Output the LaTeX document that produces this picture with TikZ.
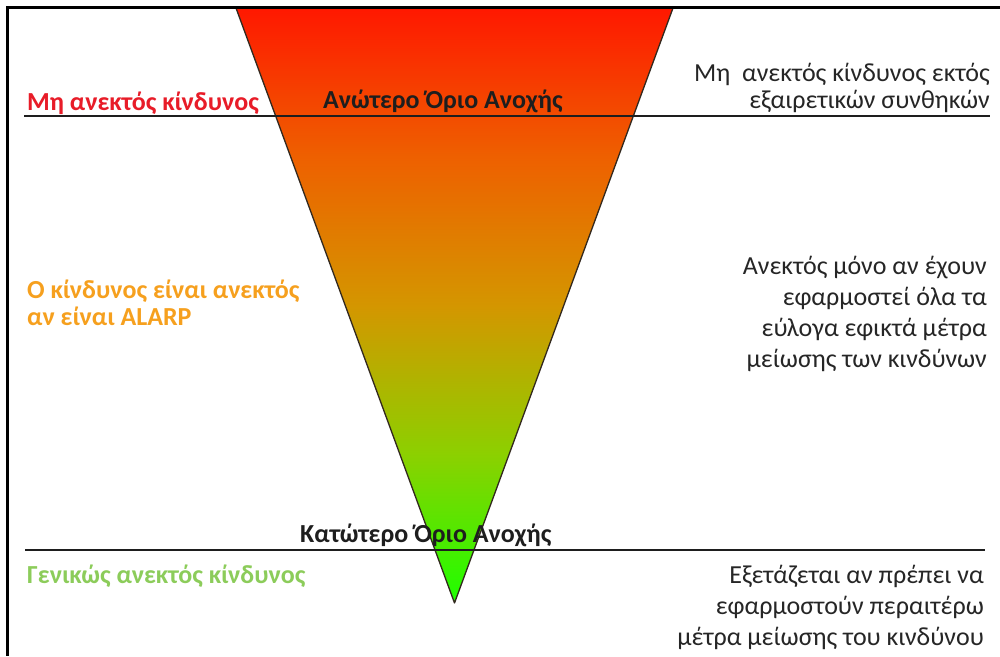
\documentclass[tikz,border=0pt]{standalone}
\usepackage{fontspec}
\setmainfont{Carlito}
\definecolor{gtop}{RGB}{255,24,0}
\definecolor{gq1}{RGB}{238,96,0}
\definecolor{gmid}{RGB}{212,150,0}
\definecolor{gq3}{RGB}{140,208,0}
\definecolor{gbot}{RGB}{30,255,0}
\definecolor{riskred}{RGB}{232,28,40}
\definecolor{riskorange}{RGB}{246,160,30}
\definecolor{riskgreen}{RGB}{140,204,90}
\definecolor{notegray}{RGB}{38,38,38}
\definecolor{rulegray}{RGB}{30,30,30}
\definecolor{edgegray}{RGB}{50,40,30}
% red at the top, green at the bottom (stops 25bp..75bp span the path)
\pgfdeclareverticalshading{riskgrad}{100bp}{%
  color(0bp)=(gbot); color(25bp)=(gbot); color(37.5bp)=(gq3);
  color(50bp)=(gmid); color(62.5bp)=(gq1); color(75bp)=(gtop); color(100bp)=(gtop)}
\begin{document}
\begin{tikzpicture}[x=1pt,y=-1pt,
  lbl/.style={inner sep=0pt, font=\bfseries\fontsize{26}{27}\selectfont},
  note/.style={inner sep=0pt, align=right, text=notegray, font=\fontsize{26}{31}\selectfont},
  rule/.style={line width=2pt, draw=rulegray}]
\useasboundingbox (0,0) rectangle (1000,656);
\fill[white] (0,0) rectangle (1000,656);
% the inverted triangle
\coordinate (tl) at (236,8);
\coordinate (tr) at (673,8);
\coordinate (bt) at (454.5,603);
\shade[shading=riskgrad] (tl) -- (tr) -- (bt) -- cycle;
\draw[line width=1.3pt, draw=edgegray, line join=round] (tl) -- (bt) -- (tr);
% frame
\coordinate (fr) at (1000,7);
\coordinate (fc) at (7,7);
\coordinate (fb) at (7,656);
\draw[line width=3pt] (fr) -- (fc) -- (fb);
% tolerance limits
\coordinate (u1) at (24,116);
\coordinate (u2) at (990,116);
\coordinate (l1) at (25,550);
\coordinate (l2) at (985,550);
\draw[rule] (u1) -- (u2);
\draw[rule] (l1) -- (l2);
% labels (base anchor of a multi-line node sits on its last line)
\node[lbl, text=riskred, anchor=base west] (red) at (27,110) {Μη ανεκτός κίνδυνος};
\node[lbl, text=rulegray, anchor=base west] (upper) at (323,108) {Ανώτερο Όριο Ανοχής};
\node[lbl, text=riskorange, anchor=base west, align=left] (alarp) at (27,325) {Ο κίνδυνος είναι ανεκτός\\αν είναι ALARP};
\node[lbl, text=rulegray, anchor=base west] (lower) at (300,542) {Κατώτερο Όριο Ανοχής};
\node[lbl, text=riskgreen, anchor=base west] (green) at (27,583) {Γενικώς ανεκτός κίνδυνος};
% notes on the right
\node[note, anchor=base east, font=\fontsize{26}{27}\selectfont] (n1) at (990,108) {Μη\ \ ανεκτός κίνδυνος εκτός\\εξαιρετικών συνθηκών};
\node[note, anchor=base east] (n2) at (987,367) {Ανεκτός μόνο αν έχουν\\εφαρμοστεί όλα τα\\εύλογα εφικτά μέτρα\\μείωσης των κινδύνων};
\node[note, anchor=base east] (n3) at (984,645) {Εξετάζεται αν πρέπει να\\εφαρμοστούν περαιτέρω\\μέτρα μείωσης του κινδύνου};
\end{tikzpicture}
\end{document}
